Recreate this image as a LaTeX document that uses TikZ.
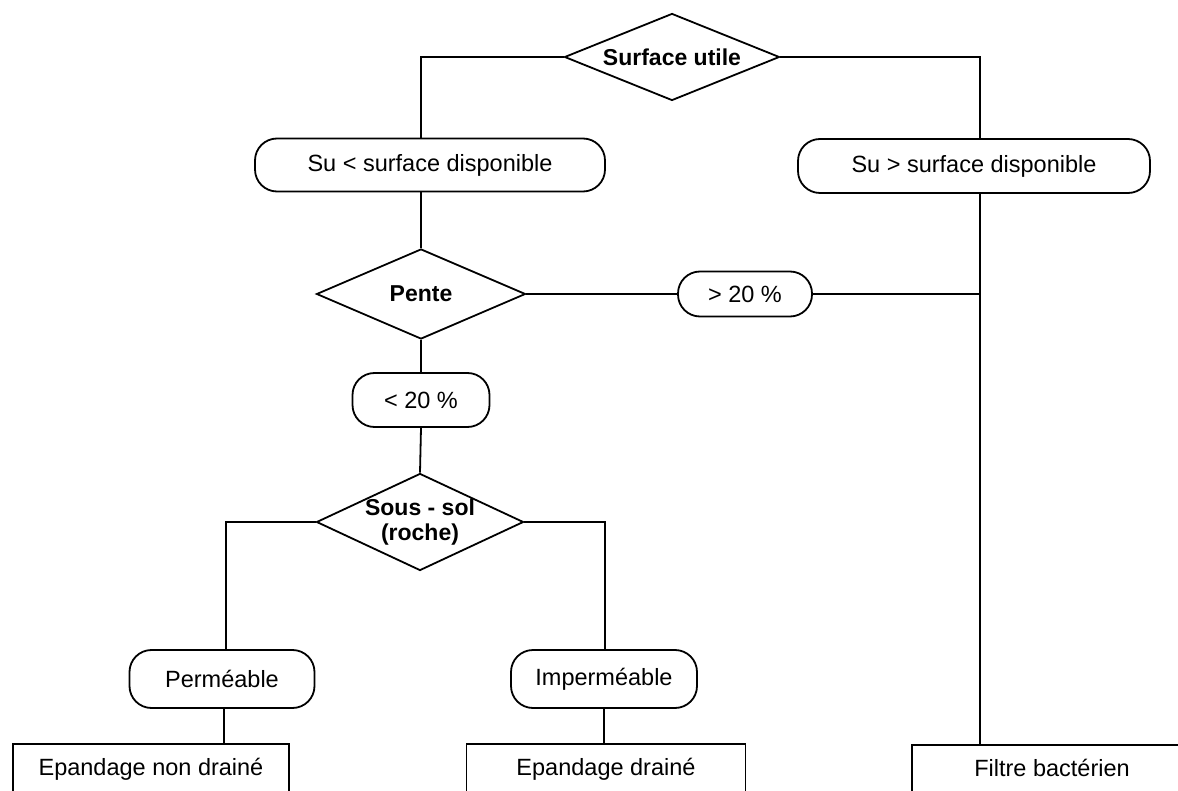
\documentclass[tikz,border=0pt]{standalone}
\usepackage{fontspec}
\setmainfont{Liberation Sans}
\usetikzlibrary{shapes.geometric}
\begin{document}
\begin{tikzpicture}[x=1pt,y=-1pt,line width=1.8pt,
  every node/.style={font=\fontsize{23.5}{26}\selectfont},
  decision/.style={draw,diamond,shape aspect=2.5,inner sep=0pt,font=\fontsize{23}{26}\selectfont\bfseries,align=center},
  capsule/.style={draw,rectangle,rounded corners=22pt,inner sep=0pt},
  result/.style={draw,rectangle,anchor=north,inner xsep=0pt,inner ysep=15pt,text height=17pt,text depth=5pt}]
\useasboundingbox (0,0) rectangle (1178,791);
\clip (0,0) rectangle (1178,791);
\node[decision,minimum width=215pt,minimum height=87pt] (su) at (672,57) {Surface utile};
\node[capsule,minimum width=350pt,minimum height=53pt] (sul) at (430,165) {Su < surface disponible};
\node[capsule,minimum width=352pt,minimum height=54pt] (sug) at (974,166) {Su > surface disponible};
\node[decision,minimum width=209pt,minimum height=90pt] (pente) at (421,294) {Pente};
\node[capsule,minimum width=134pt,minimum height=45pt] (g20) at (745,294) {> 20 \%};
\node[capsule,minimum width=137pt,minimum height=54pt] (l20) at (421,400) {< 20 \%};
\node[decision,inner sep=-10pt,minimum width=207pt,minimum height=97pt,font=\fontsize{23}{25}\selectfont\bfseries] (sous) at (420,522) {Sous - sol\\(roche)};
\node[capsule,minimum width=185pt,minimum height=58pt] (perm) at (222,679) {Perméable};
\node[capsule,minimum width=186pt,minimum height=58pt] (imp) at (604,679) {Imperméable};
\node[result,minimum width=276pt] (e1) at (151,743) {Epandage non drainé};
\node[result,minimum width=279pt] (e2) at (606,743) {Epandage drainé};
\node[result,minimum width=280pt] (f) at (1052,744) {Filtre bactérien};
\coordinate (j) at (980,294);
\draw (su.west) -| ([xshift=-9pt]sul.north);
\draw (su.east) -| ([xshift=6pt]sug.north);
\draw ([xshift=-9pt]sul.south) -- (pente.north);
\draw ([xshift=6pt]sug.south) -- (j) -- (j |- f.north);
\draw (pente.east) -- (g20.west);
\draw (g20.east) -- (j);
\draw (pente.south) -- (l20.north);
\draw (l20.south) -- (sous.north);
\draw (sous.west) -| ([xshift=4pt]perm.north);
\draw (sous.east) -| ([xshift=1pt]imp.north);
\draw ([xshift=2pt]perm.south) -- ([xshift=2pt]perm.south |- e1.north);
\draw (imp.south) -- (imp.south |- e2.north);
\end{tikzpicture}
\end{document}
